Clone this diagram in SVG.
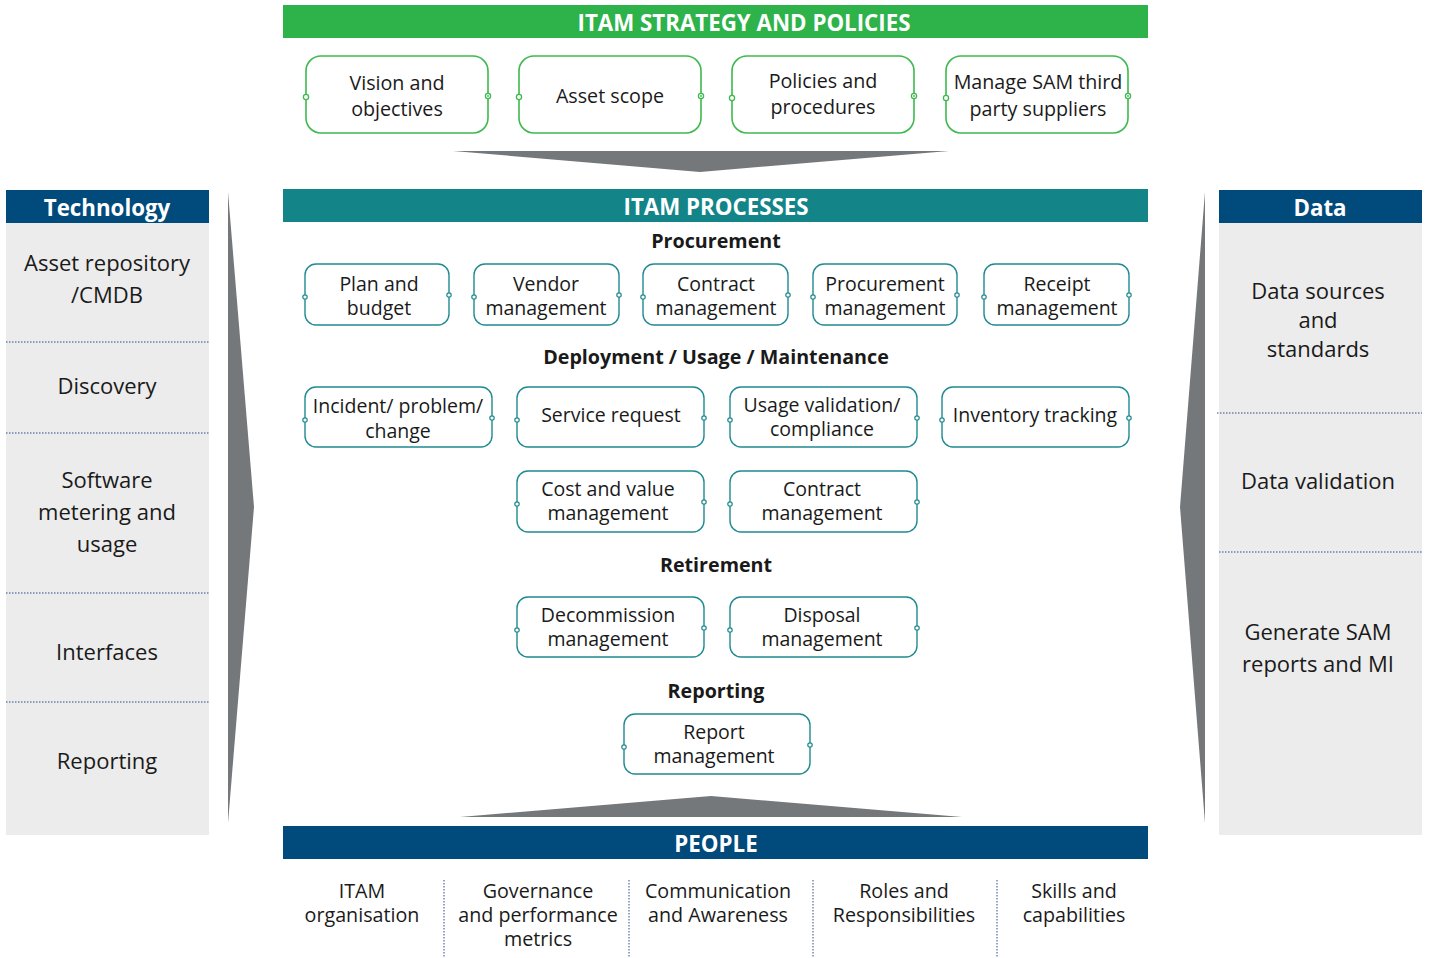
<svg xmlns="http://www.w3.org/2000/svg" width="1429" height="958" viewBox="0 0 1429 958">
<style>
text{font-family:"Open Sans","Noto Sans","DejaVu Sans",sans-serif;fill:#1a1a1a;text-anchor:middle;dominant-baseline:central}
.bar{font-weight:bold;fill:#fff;font-size:22.3px}
.side{font-size:22px}
.sec{font-weight:bold;font-size:19.7px}
.bt{font-size:19.7px}
.pb{font-size:19.5px}
.pt{font-size:19.7px}
.gbox{fill:#fff;stroke:#3dba4e;stroke-width:1.6}
.tbox{fill:#fff;stroke:#1f8a91;stroke-width:1.4}
.gc{fill:#fff;stroke:#3dba4e;stroke-width:1.3}
.tc{fill:#fff;stroke:#1f8a91;stroke-width:1.2}
.sep{stroke:#2b4a8c;stroke-width:1;stroke-dasharray:1.5 1.5}
.arrow{fill:#75787b}
</style>
<rect width="1429" height="958" fill="#fff"/>

<g id="arrows">
<polygon class="arrow" points="453,151 949,151 700,172"/>
<polygon class="arrow" points="460,817 711,796 962,817"/>
<polygon class="arrow" points="228,192 254,507 228,823"/>
<polygon class="arrow" points="1205,192 1180,507 1205,823"/>
</g>

<g id="strategy">
<rect x="283" y="5" width="865" height="33" fill="#2db34a"/>
<text class="bar" x="744" y="22">ITAM STRATEGY AND POLICIES</text>
</g>
<g id="s1"><rect class="gbox" x="306" y="56" width="182" height="77" rx="15"/><circle class="gc" cx="306" cy="97" r="2.6"/><circle class="gc" cx="488" cy="96" r="2.6"/><circle cx="488" cy="96" r="0.9" fill="#3dba4e"/><text class="bt" x="397" y="82">Vision and</text><text class="bt" x="397" y="108">objectives</text></g>
<g id="s2"><rect class="gbox" x="519" y="56" width="182" height="77" rx="15"/><circle class="gc" cx="519" cy="97" r="2.6"/><circle class="gc" cx="701" cy="96" r="2.6"/><circle cx="701" cy="96" r="0.9" fill="#3dba4e"/><text class="bt" x="610" y="95">Asset scope</text></g>
<g id="s3"><rect class="gbox" x="732" y="56" width="182" height="77" rx="15"/><circle class="gc" cx="732" cy="98" r="2.6"/><circle class="gc" cx="914" cy="96" r="2.6"/><circle cx="914" cy="96" r="0.9" fill="#3dba4e"/><text class="bt" x="823" y="80">Policies and</text><text class="bt" x="823" y="106">procedures</text></g>
<g id="s4"><rect class="gbox" x="946" y="56" width="182" height="77" rx="15"/><circle class="gc" cx="946" cy="98" r="2.6"/><circle class="gc" cx="1128" cy="96" r="2.6"/><circle cx="1128" cy="96" r="0.9" fill="#3dba4e"/><text class="bt" x="1038" y="81">Manage SAM third</text><text class="bt" x="1038" y="108">party suppliers</text></g>

<g id="technology">
<rect x="6" y="223" width="203" height="612" fill="#ececec"/>
<rect x="6" y="190" width="203" height="33" fill="#004a7c"/>
<text class="bar" x="107" y="207">Technology</text>
<line class="sep" x1="6" y1="342" x2="209" y2="342"/>
<line class="sep" x1="6" y1="433" x2="209" y2="433"/>
<line class="sep" x1="6" y1="593" x2="209" y2="593"/>
<line class="sep" x1="6" y1="702" x2="209" y2="702"/>
<text class="side" x="107" y="262">Asset repository</text>
<text class="side" x="107" y="294">/CMDB</text>
<text class="side" x="107" y="385">Discovery</text>
<text class="side" x="107" y="479">Software</text>
<text class="side" x="107" y="511">metering and</text>
<text class="side" x="107" y="543">usage</text>
<text class="side" x="107" y="651">Interfaces</text>
<text class="side" x="107" y="760">Reporting</text>
</g>

<g id="data">
<rect x="1219" y="223" width="203" height="612" fill="#ececec"/>
<rect x="1219" y="190" width="203" height="33" fill="#004a7c"/>
<text class="bar" x="1320" y="207">Data</text>
<line class="sep" x1="1217" y1="413" x2="1422" y2="413"/>
<line class="sep" x1="1219" y1="552" x2="1422" y2="552"/>
<text class="side" x="1318" y="290">Data sources</text>
<text class="side" x="1318" y="319">and</text>
<text class="side" x="1318" y="348">standards</text>
<text class="side" x="1318" y="480">Data validation</text>
<text class="side" x="1318" y="631">Generate SAM</text>
<text class="side" x="1318" y="663">reports and MI</text>
</g>

<g id="processes">
<rect x="283" y="189" width="865" height="33" fill="#138589"/>
<text class="bar" x="716" y="206">ITAM PROCESSES</text>
<text class="sec" x="716" y="240">Procurement</text>
<text class="sec" x="716" y="356">Deployment / Usage / Maintenance</text>
<text class="sec" x="716" y="564">Retirement</text>
<text class="sec" x="716" y="690">Reporting</text>
</g>

<g id="p1"><rect class="tbox" x="305" y="264" width="144" height="61" rx="11"/><circle class="tc" cx="305" cy="297" r="2.2"/><circle class="tc" cx="449" cy="295" r="2.2"/><text class="pb" x="379" y="283">Plan and</text><text class="pb" x="379" y="307">budget</text></g>
<g id="p2"><rect class="tbox" x="474" y="264" width="145" height="61" rx="11"/><circle class="tc" cx="474" cy="297" r="2.2"/><circle class="tc" cx="619" cy="295" r="2.2"/><text class="pb" x="546" y="283">Vendor</text><text class="pb" x="546" y="307">management</text></g>
<g id="p3"><rect class="tbox" x="643" y="264" width="145" height="61" rx="11"/><circle class="tc" cx="643" cy="297" r="2.2"/><circle class="tc" cx="788" cy="295" r="2.2"/><text class="pb" x="716" y="283">Contract</text><text class="pb" x="716" y="307">management</text></g>
<g id="p4"><rect class="tbox" x="813" y="264" width="144" height="61" rx="11"/><circle class="tc" cx="813" cy="297" r="2.2"/><circle class="tc" cx="957" cy="295" r="2.2"/><text class="pb" x="885" y="283">Procurement</text><text class="pb" x="885" y="307">management</text></g>
<g id="p5"><rect class="tbox" x="984" y="264" width="145" height="61" rx="11"/><circle class="tc" cx="984" cy="297" r="2.2"/><circle class="tc" cx="1129" cy="295" r="2.2"/><text class="pb" x="1057" y="283">Receipt</text><text class="pb" x="1057" y="307">management</text></g>

<g id="d1"><rect class="tbox" x="305" y="387" width="187" height="60" rx="11"/><circle class="tc" cx="305" cy="420" r="2.2"/><circle class="tc" cx="492" cy="418" r="2.2"/><text class="pb" x="398" y="405">Incident/ problem/</text><text class="pb" x="398" y="430">change</text></g>
<g id="d2"><rect class="tbox" x="517" y="387" width="187" height="60" rx="11"/><circle class="tc" cx="517" cy="420" r="2.2"/><circle class="tc" cx="704" cy="418" r="2.2"/><text class="pb" x="611" y="414">Service request</text></g>
<g id="d3"><rect class="tbox" x="730" y="387" width="187" height="60" rx="11"/><circle class="tc" cx="730" cy="420" r="2.2"/><circle class="tc" cx="917" cy="418" r="2.2"/><text class="pb" x="822" y="404">Usage validation/</text><text class="pb" x="822" y="428">compliance</text></g>
<g id="d4"><rect class="tbox" x="942" y="387" width="187" height="60" rx="11"/><circle class="tc" cx="942" cy="420" r="2.2"/><circle class="tc" cx="1129" cy="418" r="2.2"/><text class="pb" x="1035" y="414">Inventory tracking</text></g>
<g id="d5"><rect class="tbox" x="517" y="471" width="187" height="61" rx="11"/><circle class="tc" cx="517" cy="504" r="2.2"/><circle class="tc" cx="704" cy="502" r="2.2"/><text class="pb" x="608" y="488">Cost and value</text><text class="pb" x="608" y="512">management</text></g>
<g id="d6"><rect class="tbox" x="730" y="471" width="187" height="61" rx="11"/><circle class="tc" cx="730" cy="504" r="2.2"/><circle class="tc" cx="917" cy="502" r="2.2"/><text class="pb" x="822" y="488">Contract</text><text class="pb" x="822" y="512">management</text></g>

<g id="r1"><rect class="tbox" x="517" y="597" width="187" height="60" rx="11"/><circle class="tc" cx="517" cy="630" r="2.2"/><circle class="tc" cx="704" cy="628" r="2.2"/><text class="pb" x="608" y="614">Decommission</text><text class="pb" x="608" y="638">management</text></g>
<g id="r2"><rect class="tbox" x="730" y="597" width="187" height="60" rx="11"/><circle class="tc" cx="730" cy="630" r="2.2"/><circle class="tc" cx="917" cy="628" r="2.2"/><text class="pb" x="822" y="614">Disposal</text><text class="pb" x="822" y="638">management</text></g>

<g id="rep1"><rect class="tbox" x="624" y="714" width="186" height="60" rx="11"/><circle class="tc" cx="624" cy="747" r="2.2"/><circle class="tc" cx="810" cy="745" r="2.2"/><text class="pb" x="714" y="731">Report</text><text class="pb" x="714" y="755">management</text></g>

<g id="people">
<rect x="283" y="826" width="865" height="33" fill="#004a7c"/>
<text class="bar" x="716" y="843">PEOPLE</text>
<line class="sep" x1="444" y1="880" x2="444" y2="958"/>
<line class="sep" x1="629" y1="880" x2="629" y2="958"/>
<line class="sep" x1="813" y1="880" x2="813" y2="958"/>
<line class="sep" x1="997" y1="880" x2="997" y2="958"/>
<text class="pt" x="362" y="890">ITAM</text>
<text class="pt" x="362" y="914">organisation</text>
<text class="pt" x="538" y="890">Governance</text>
<text class="pt" x="538" y="914">and performance</text>
<text class="pt" x="538" y="938">metrics</text>
<text class="pt" x="718" y="890">Communication</text>
<text class="pt" x="718" y="914">and Awareness</text>
<text class="pt" x="904" y="890">Roles and</text>
<text class="pt" x="904" y="914">Responsibilities</text>
<text class="pt" x="1074" y="890">Skills and</text>
<text class="pt" x="1074" y="914">capabilities</text>
</g>
</svg>
